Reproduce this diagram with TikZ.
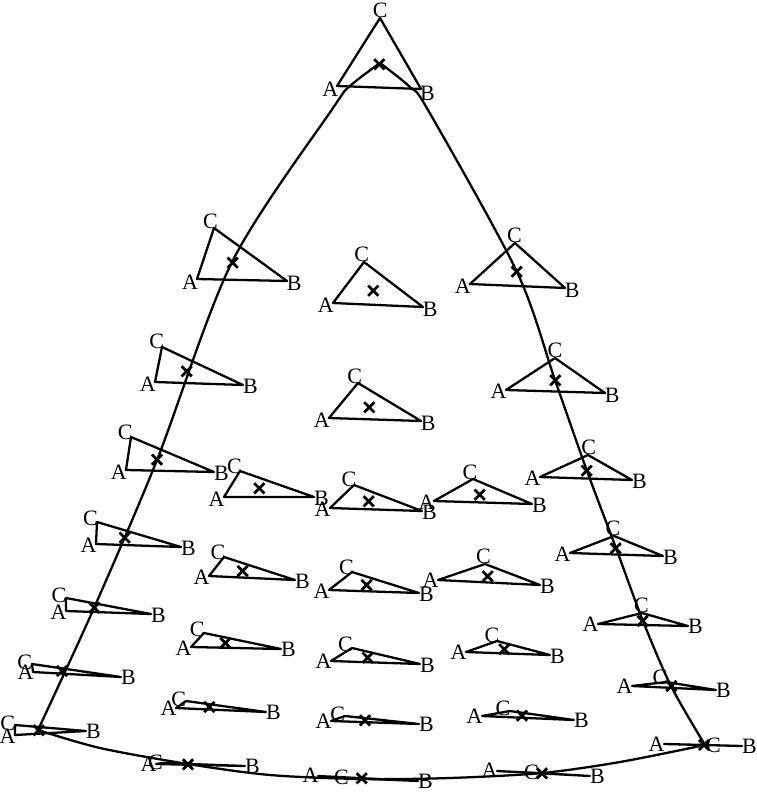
\documentclass[tikz,border=0pt]{standalone}
\usepackage{fontspec}
\setmainfont{Liberation Serif}
\usepackage{tikz}
\usetikzlibrary{calc,shapes.misc}

\newcommand{\shapetri}[4]{%
  \coordinate (#1a) at (#2);
  \coordinate (#1b) at (#3);
  \coordinate (#1c) at (#4);
  \coordinate (#1m) at (barycentric cs:#1a=1,#1b=1,#1c=1);
  \draw[side] (#1a) -- (#1b) -- (#1c) -- cycle;
  \node[lbl] (#1A) at ($(#1a)!-4.3pt!(#1m)$) {A};
  \node[lbl] (#1B) at ($(#1b)!-4.3pt!(#1m)$) {B};
  \node[lbl] (#1C) at ($(#1c)!-4.3pt!(#1m)$) {C};
  \node[cross] (#1x) at (#1m) {};
}

\begin{document}
\begin{tikzpicture}[x=0.02cm,y=-0.02cm]
\tikzstyle{side}=[line width=1.3pt,line join=round]
\tikzstyle{lbl}=[inner sep=0pt,font=\fontsize{12.5}{12.5}\selectfont]
\tikzstyle{cross}=[cross out,draw,line width=1.6pt,minimum size=4.2pt,inner sep=0pt]
\tikzstyle{rim}=[line width=1.3pt]
\useasboundingbox (0,0) rectangle (757,792);
\draw[rim] plot[smooth,tension=0.5] coordinates {(380,63) (350,86) (333,108) (232,262) (157,460) (94,608) (38,730)};
\draw[rim] plot[smooth,tension=0.5] coordinates {(380,63) (410,87) (428,110) (517,272) (555,380) (587,471) (616,548) (643,621) (671,686) (705,745)};
\draw[rim] plot[smooth,tension=0.5] coordinates {(38,730) (100,748) (188,764) (270,775) (362,779) (450,778) (542,773) (620,762) (705,745)};
\shapetri{t0}{337,86}{421,89}{380,18}
\shapetri{t1}{197,279}{287,281}{214,228}
\shapetri{t2}{333,303}{423,307}{364,262}
\shapetri{t3}{470,284}{565,288}{515,243}
\shapetri{t4}{155,382}{243,385}{162,347}
\shapetri{t5}{329,418}{421,421}{358,383}
\shapetri{t6}{506,390}{605,393}{555,358}
\shapetri{t7}{126,470}{214,472}{131,437}
\shapetri{t8}{224,497}{314,497}{240,471}
\shapetri{t9}{330,508}{422,511}{354,485}
\shapetri{t10}{434,501}{532,504}{473,479}
\shapetri{t11}{540,477}{632,480}{588,455}
\shapetri{t12}{96,544}{181,547}{97,522}
\shapetri{t13}{209,576}{295,580}{224,557}
\shapetri{t14}{329,590}{419,593}{352,572}
\shapetri{t15}{438,580}{540,585}{485,564}
\shapetri{t16}{570,553}{663,556}{614,536}
\shapetri{t17}{66,611}{151,614}{66,598}
\shapetri{t18}{191,647}{281,649}{204,633}
\shapetri{t19}{331,661}{420,664}{352,648}
\shapetri{t20}{466,652}{550,655}{497,641}
\shapetri{t21}{598,624}{688,626}{642,613}
\shapetri{t22}{33,672}{121,677}{32,664}
\shapetri{t23}{176,708}{266,712}{186,701}
\shapetri{t24}{331,721}{419,724}{345,716}
\shapetri{t25}{482,716}{574,720}{510,711}
\shapetri{t26}{632,686}{716,690}{666,682}
\shapetri{t27}{15,735}{86,731}{15,725}
\shapetri{t28}{156,764}{245,766}{163,763}
\shapetri{t29}{318,776}{418,781}{349,778}
\shapetri{t30}{497,771}{590,776}{539,773}
\shapetri{t31}{664,744}{742,746}{706,745}
\end{tikzpicture}
\end{document}
